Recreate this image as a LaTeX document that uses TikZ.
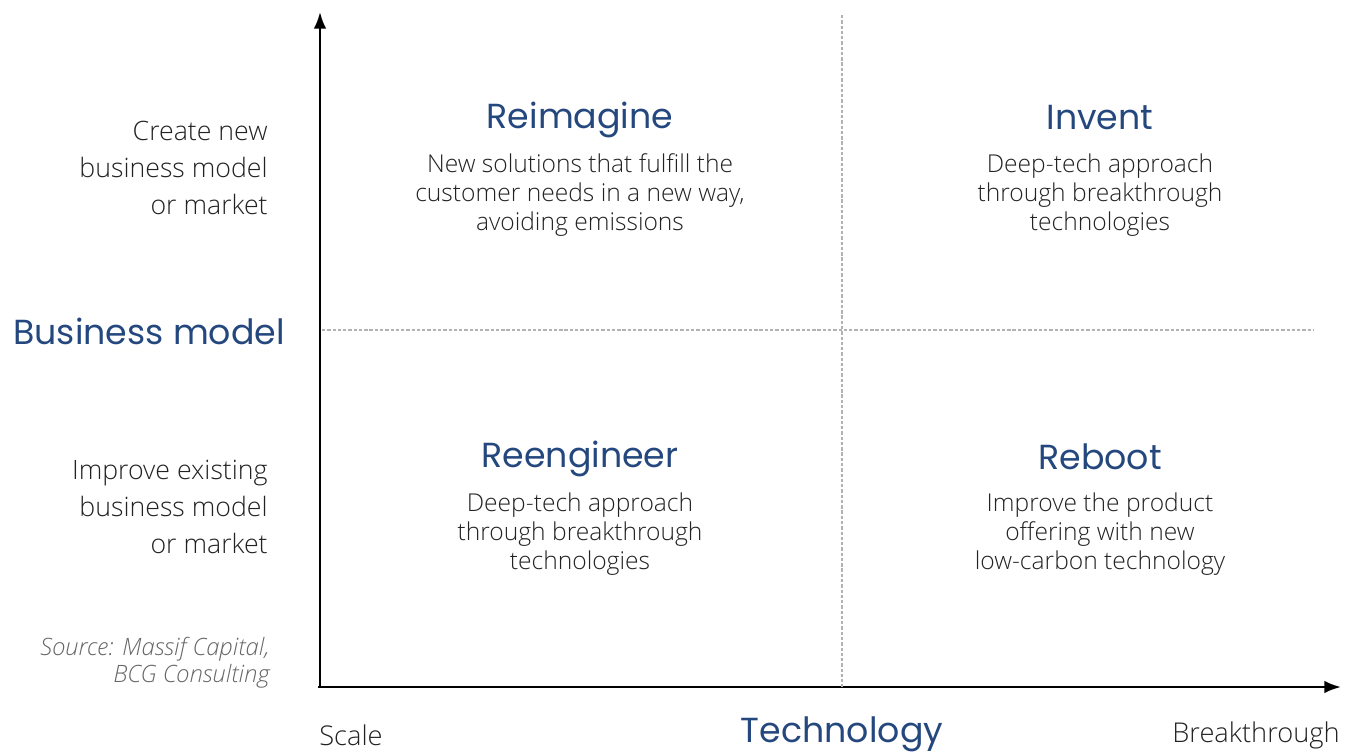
\documentclass[tikz,border=0pt]{standalone}
\usepackage{fontspec}
\setmainfont{Open Sans}[UprightFont=* Light, ItalicFont=* Light Italic]
\newfontfamily\headfont{Poppins}
\usetikzlibrary{arrows.meta}
\usetikzlibrary{positioning}
\definecolor{quadblue}{HTML}{24487E}
\definecolor{bodygray}{HTML}{222222}
\begin{document}
\begin{tikzpicture}[
	x=0.02cm, y=-0.02cm,
	font=\fontsize{14}{16.5}\selectfont,
	text=bodygray
]
\tikzset{
    axis/.style = {line width=1.4pt, -{Latex[length=9.5pt,width=7.2pt]}},
    divider/.style = {gray!60, line width=0.6pt, dash pattern=on 1.9pt off 1.1pt},
    quadtitle/.style = {inner sep=0pt, text=quadblue, font=\headfont\fontsize{19.8}{22}\selectfont},
    quadtext/.style = {inner sep=0pt, align=center},
    sidelabel/.style = {inner sep=0pt, align=right, anchor=east, font=\fontsize{15.2}{21}\selectfont}
}
\useasboundingbox (0,0) rectangle (1356,753);
% axes
\coordinate (origin) at (320,687);
\coordinate (ytop) at (320,12);
\coordinate (xend) at (1341,687);
\draw[axis] (origin) -- (ytop);
\draw[axis] (318,687) -- (xend);
% quadrant dividers
\coordinate (vtop) at (842,15);
\coordinate (vbot) at (842,687);
\coordinate (hleft) at (322,330);
\coordinate (hright) at (1314,330);
\draw[divider] (vtop) -- (vbot);
\draw[divider] (hleft) -- (hright);
% quadrants
\node[quadtitle] (reimagine) at (580,120) {Reimagine};
\node[quadtext] (reimaginetxt) at (580,195) {New solutions that fulfill the\\customer needs in a new way,\\avoiding emissions};
\node[quadtitle] (invent) at (1100,118) {Invent};
\node[quadtext] (inventtxt) at (1100,195) {Deep-tech approach\\through breakthrough\\technologies};
\node[quadtitle] (reengineer) at (580,459) {Reengineer};
\node[quadtext] (reengineertxt) at (580,534) {Deep-tech approach\\through breakthrough\\technologies};
\node[quadtitle] (reboot) at (1100,457) {Reboot};
\node[quadtext] (reboottxt) at (1100,534) {Improve the product\\offering with new\\low-carbon technology};
% y axis labels
\node[sidelabel] (ynew) at (268,168) {Create new\\business model\\or market};
\node[sidelabel] (yold) at (268,507) {Improve existing\\business model\\or market};
\node[quadtitle,anchor=west] (ytitle) at (13,331) {Business model};
\node[sidelabel,text=gray!80!black,font=\itshape\fontsize{13.6}{15.5}\selectfont] (source) at (270,663) {Source: Massif Capital,\\BCG Consulting};
% x axis labels
\node[inner sep=0pt,anchor=west,font=\fontsize{15.5}{16}\selectfont] (scale) at (319,735) {Scale};
\node[quadtitle] (xtitle) at (842,734) {Technology};
\node[inner sep=0pt,anchor=east,font=\fontsize{15.5}{16}\selectfont] (breakthrough) at (1340,735) {Breakthrough};
\end{tikzpicture}
\end{document}
